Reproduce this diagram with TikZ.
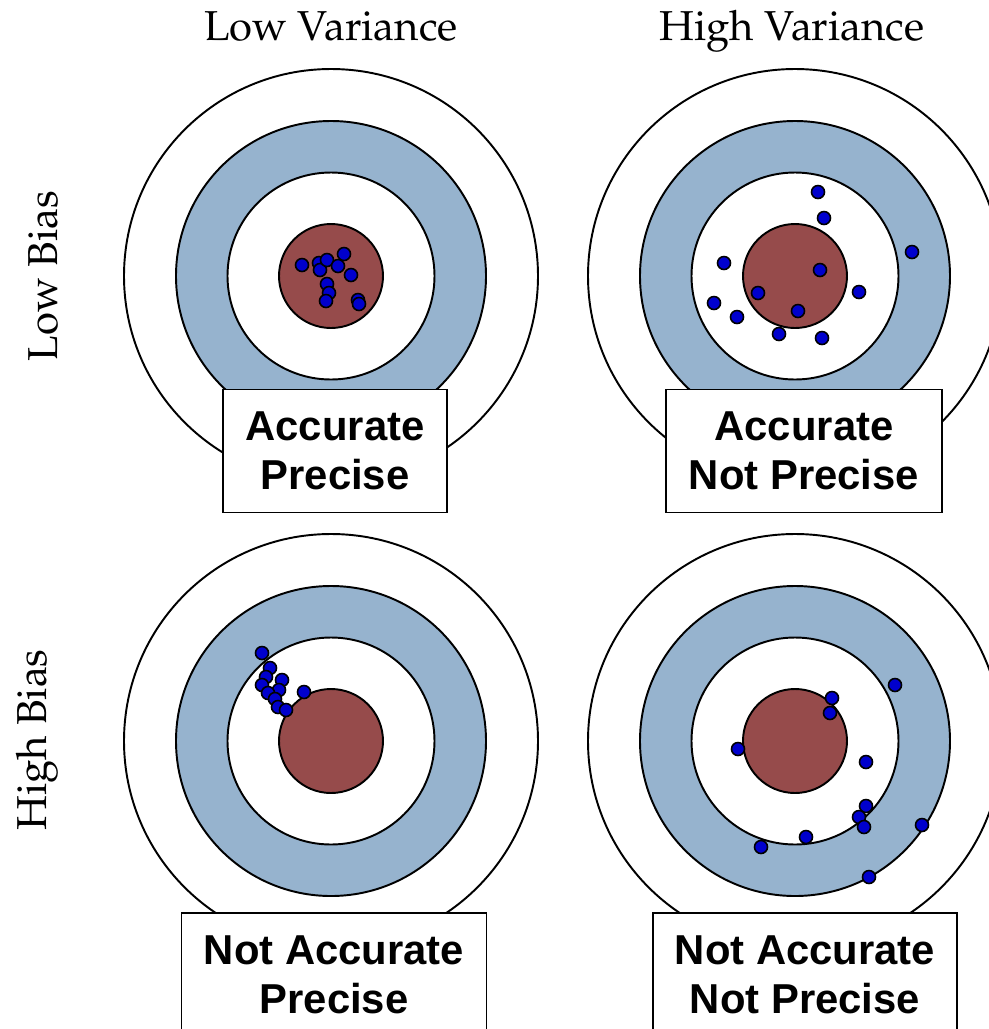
\documentclass[tikz,border=0pt]{standalone}
\usepackage[T1]{fontenc}
\usepackage{fontspec}
\newfontfamily\verdictfont{Liberation Sans}
\newcommand\headfont{\fontencoding{T1}\fontfamily{ppl}\selectfont}
\definecolor{ringblue}{RGB}{150,179,206}
\definecolor{bullred}{RGB}{150,75,75}
\definecolor{shotblue}{RGB}{0,0,205}

\begin{document}
\begin{tikzpicture}[x=0.02cm,y=-0.02cm,
  ring/.style={draw=black,line width=1.1pt},
  shot/.style={draw=black,line width=0.9pt,fill=shotblue},
  verdict/.style={draw=black,line width=1.1pt,fill=white,align=center,inner xsep=0.44cm,inner ysep=0.45cm,
    font=\verdictfont\bfseries\fontsize{23.8}{27.8}\selectfont},
  heading/.style={anchor=base,font=\headfont\fontsize{23.8}{28}\selectfont}]
\useasboundingbox (0,0) rectangle (989,1029);
% targets
\foreach \cx/\cy in {331/276,795/276,331/741,795/741}{
  \draw[ring,fill=white] (\cx,\cy) circle[radius=207];
  \draw[ring,fill=ringblue] (\cx,\cy) circle[radius=155];
  \draw[ring,fill=white] (\cx,\cy) circle[radius=103.5];
  \draw[ring,fill=bullred] (\cx,\cy) circle[radius=52];
}
% shots
\foreach \sx/\sy in {302/265,319/263,320/270,327/260,338/266,344/254,351/275,327/284,329/293,326/301,358/300,359/304}
  \draw[shot] (\sx,\sy) circle[radius=6.5];
\foreach \sx/\sy in {818/192,824/218,912/252,724/263,820/270,758/293,859/292,714/303,737/317,798/311,779/334,822/338}
  \draw[shot] (\sx,\sy) circle[radius=6.5];
\foreach \sx/\sy in {262/653,270/668,266/677,282/680,262/685,279/690,268/693,275/699,278/707,286/710,304/692}
  \draw[shot] (\sx,\sy) circle[radius=6.5];
\foreach \sx/\sy in {895/685,832/698,830/713,738/749,866/762,866/806,859/817,864/827,922/825,806/837,761/847,869/877}
  \draw[shot] (\sx,\sy) circle[radius=6.5];
% row and column titles
\node[heading] (lowvar) at (331,40) {Low Variance};
\node[heading] (highvar) at (792,40) {High Variance};
\node[heading,rotate=90] (lowbias) at (57,276) {Low Bias};
\node[heading,rotate=90] (highbias) at (47,740) {High Bias};
% verdict boxes
\node[verdict,minimum width=4.48cm] (accprec) at (335,451) {Accurate\\Precise};
\node[verdict,minimum width=5.52cm] (accnotprec) at (804,451) {Accurate\\Not Precise};
\node[verdict,minimum width=6.1cm,anchor=north] (notaccprec) at (334,912) {Not Accurate\\Precise};
\node[verdict,minimum width=6.08cm,anchor=north] (notaccnotprec) at (805,912) {Not Accurate\\Not Precise};
\end{tikzpicture}
\end{document}
